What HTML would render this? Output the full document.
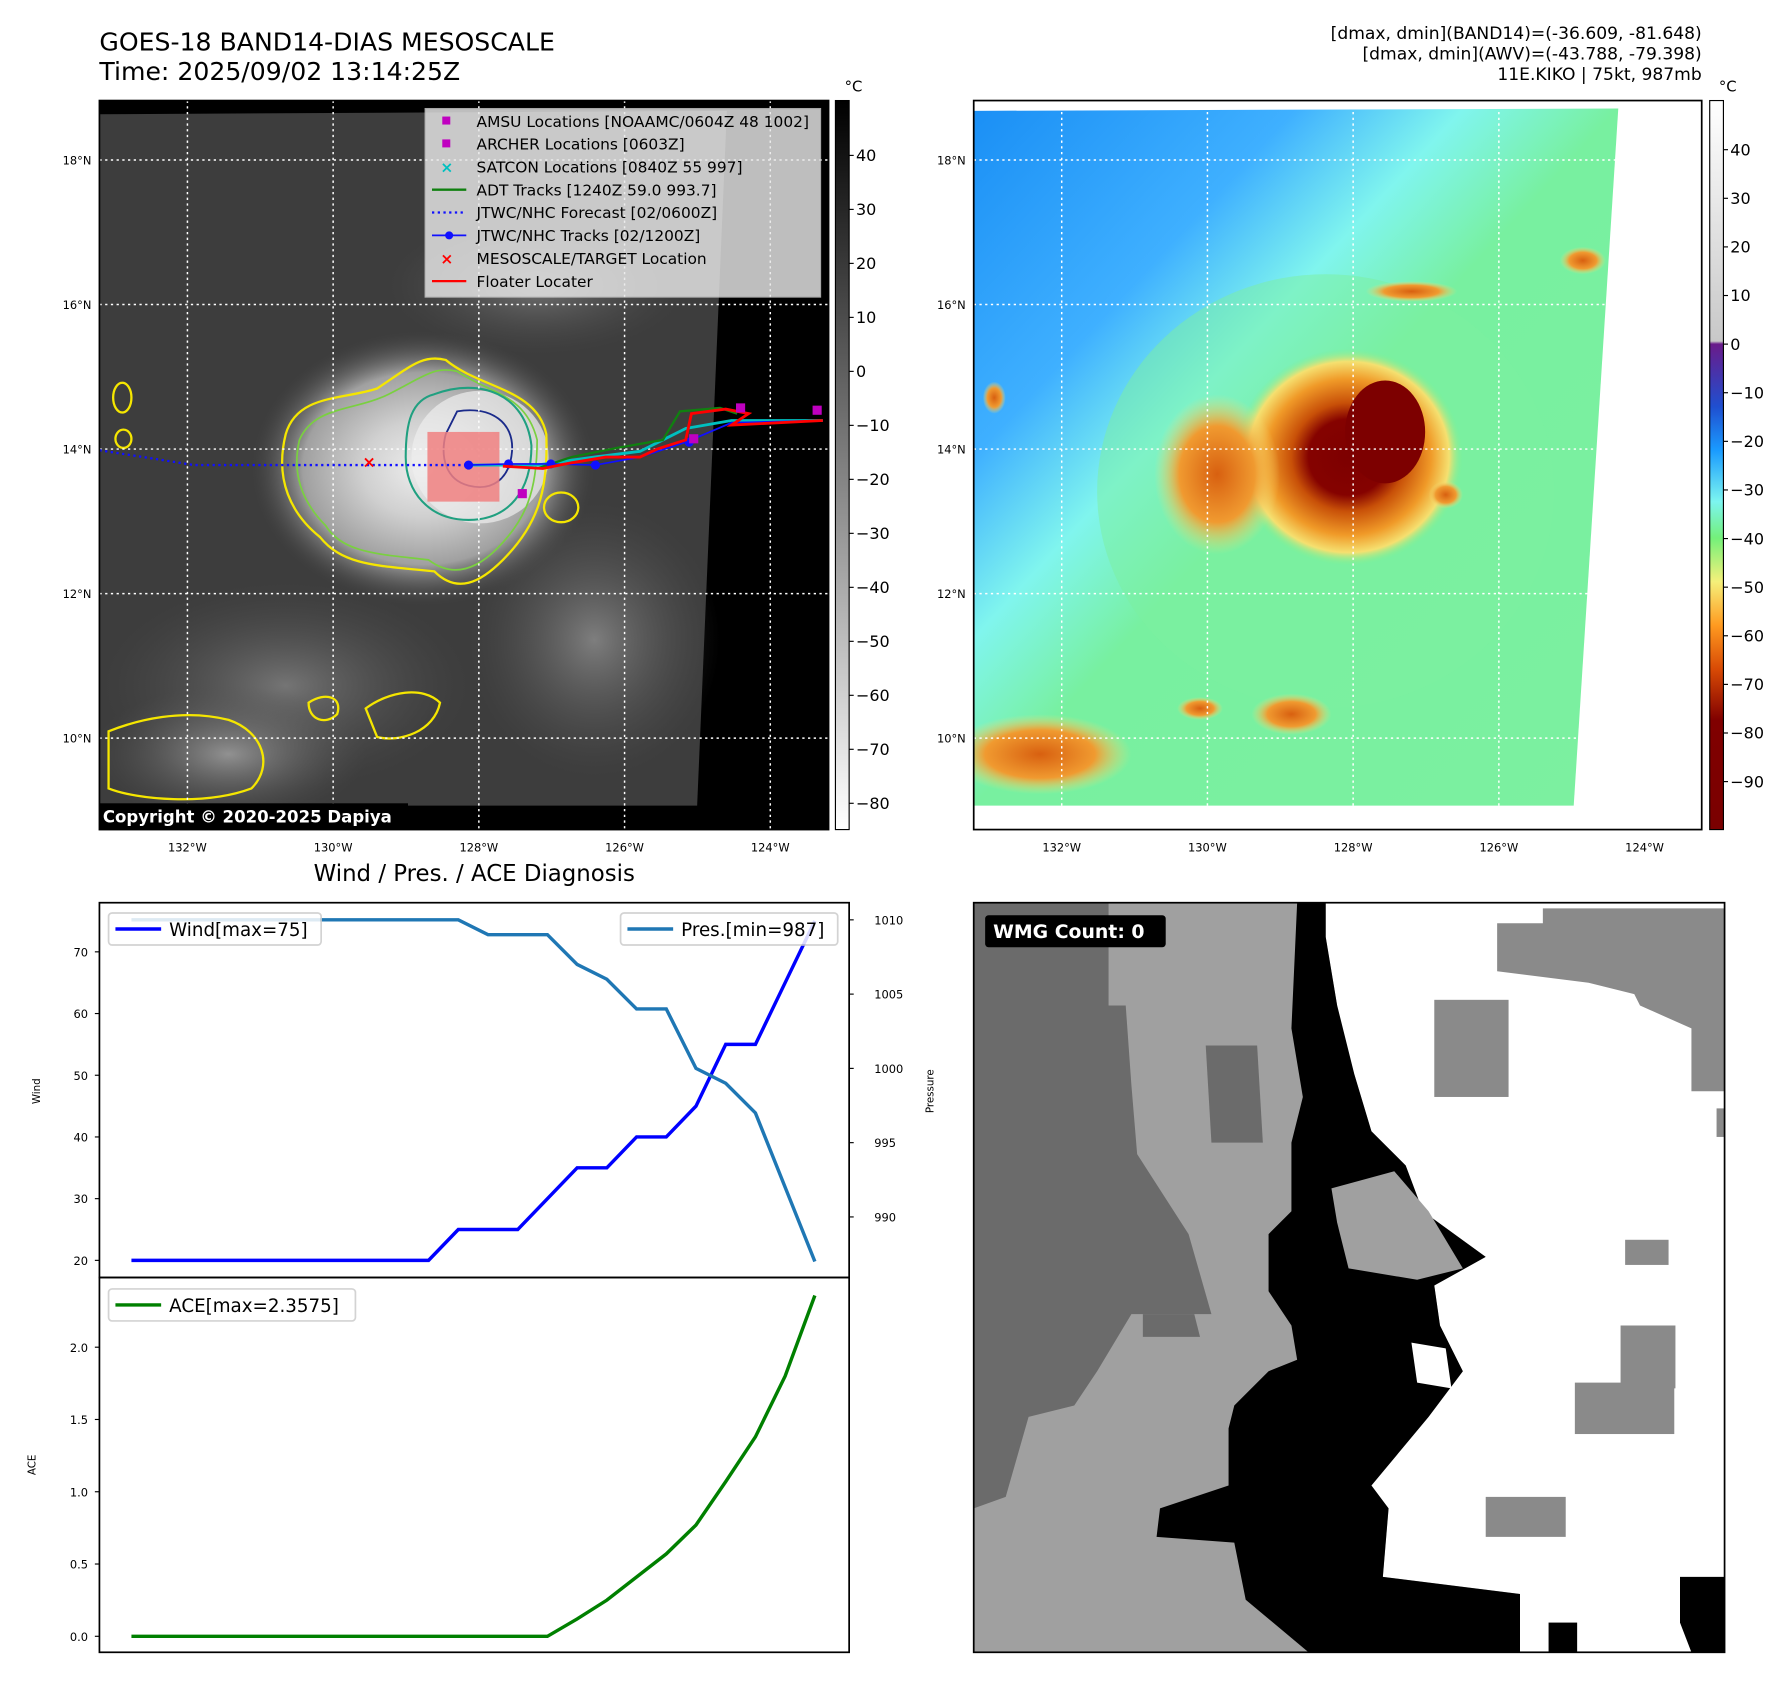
<!DOCTYPE html>
<html><head><meta charset="utf-8"><title>GOES-18 BAND14 KIKO</title>
<style>
html,body{margin:0;padding:0;background:#fff;}
svg{display:block;font-family:"DejaVu Sans","Liberation Sans",sans-serif;}
</style></head>
<body>
<svg id="fig" xmlns="http://www.w3.org/2000/svg" width="1792" height="1690" viewBox="0 0 1568 1479" preserveAspectRatio="none">
<defs>
  <linearGradient id="cb1" x1="0" y1="0" x2="0" y2="1"><stop offset="0" stop-color="#000"/><stop offset="1" stop-color="#fff"/></linearGradient>
  <linearGradient id="cb2" x1="0" y1="0" x2="0" y2="1">
    <stop offset="0" stop-color="#ffffff"/><stop offset="0.33" stop-color="#c8c8c8"/>
    <stop offset="0.334" stop-color="#6a1b8a"/><stop offset="0.42" stop-color="#1f4fd0"/>
    <stop offset="0.48" stop-color="#1a9bff"/><stop offset="0.55" stop-color="#7cf5f0"/>
    <stop offset="0.60" stop-color="#74f07a"/><stop offset="0.66" stop-color="#f5f07a"/>
    <stop offset="0.72" stop-color="#ff9a20"/><stop offset="0.78" stop-color="#d84a05"/>
    <stop offset="0.85" stop-color="#800000"/><stop offset="1" stop-color="#7a0000"/>
  </linearGradient>
  <radialGradient id="storm1" cx="0.5" cy="0.5" r="0.5">
    <stop offset="0" stop-color="#eeeeee"/><stop offset="0.35" stop-color="#d0d0d0"/>
    <stop offset="0.7" stop-color="#a0a0a0"/><stop offset="1" stop-color="#4a4a4a" stop-opacity="0"/>
  </radialGradient>
  <radialGradient id="cloud1" cx="0.5" cy="0.5" r="0.5">
    <stop offset="0" stop-color="#9a9a9a"/><stop offset="1" stop-color="#555" stop-opacity="0"/>
  </radialGradient>
  <linearGradient id="bg2" x1="0" y1="0" x2="1" y2="1">
    <stop offset="0" stop-color="#1a8ff5"/><stop offset="0.25" stop-color="#3fb0ff"/>
    <stop offset="0.38" stop-color="#80f5ee"/><stop offset="0.5" stop-color="#78f0a0"/>
    <stop offset="1" stop-color="#7cf0a0"/>
  </linearGradient>
  <radialGradient id="storm2" cx="0.5" cy="0.5" r="0.5">
    <stop offset="0" stop-color="#7d0000"/><stop offset="0.35" stop-color="#850200"/>
    <stop offset="0.5" stop-color="#c85008"/><stop offset="0.72" stop-color="#f09a28"/>
    <stop offset="0.88" stop-color="#f5e070"/><stop offset="1" stop-color="#7cf090" stop-opacity="0"/>
  </radialGradient>
  <radialGradient id="blob2" cx="0.5" cy="0.5" r="0.5">
    <stop offset="0" stop-color="#d86010"/><stop offset="0.6" stop-color="#f09a30"/>
    <stop offset="1" stop-color="#f5e27a" stop-opacity="0"/>
  </radialGradient>
  <clipPath id="m1clip"><rect x="87" y="88" width="638" height="638"/></clipPath>
  <clipPath id="m2clip"><rect x="852" y="88" width="637" height="638"/></clipPath>
</defs>

<!-- titles -->
<text x="87" y="44" font-size="22">GOES-18 BAND14-DIAS MESOSCALE</text>
<text x="87" y="70" font-size="22">Time: 2025/09/02 13:14:25Z</text>
<g font-size="15" text-anchor="end">
  <text x="1489" y="34">[dmax, dmin](BAND14)=(-36.609, -81.648)</text>
  <text x="1489" y="52">[dmax, dmin](AWV)=(-43.788, -79.398)</text>
  <text x="1489" y="70">11E.KIKO | 75kt, 987mb</text>
</g>

<!-- MAP 1 -->
<g clip-path="url(#m1clip)">
  <rect x="87" y="88" width="638" height="638" fill="#000"/>
  <polygon points="87,100 636,97 610,705 87,705" fill="#3d3d3d"/>
  <ellipse cx="520" cy="560" rx="110" ry="120" fill="url(#cloud1)" opacity="0.7"/>
  <ellipse cx="250" cy="600" rx="160" ry="90" fill="url(#cloud1)" opacity="0.6"/>
  <ellipse cx="200" cy="660" rx="120" ry="60" fill="url(#cloud1)" opacity="0.9"/>
  <ellipse cx="470" cy="250" rx="130" ry="60" fill="url(#cloud1)" opacity="0.6"/>
  <ellipse cx="370" cy="410" rx="150" ry="120" fill="url(#storm1)"/>
  <ellipse cx="420" cy="400" rx="60" ry="58" fill="#eeeeee" opacity="0.7"/>
  <!-- contours -->
  <path d="M250,380 C260,345 300,350 330,340 C360,320 370,310 390,315 C420,340 470,340 478,380 C480,430 470,460 440,490 C420,510 400,520 380,500 C330,495 300,495 280,470 C255,450 240,420 250,380 Z" fill="none" stroke="#f5e600" stroke-width="2"/>
  <path d="M262,385 C275,355 310,360 340,345 C370,330 380,320 400,325 C430,345 460,345 470,385 C470,430 460,455 435,480 C415,500 395,505 375,490 C335,485 300,485 285,460 C265,440 255,415 262,385 Z" fill="none" stroke="#7ad040" stroke-width="1.5"/>
  <path d="M380,345 C420,330 460,345 465,390 C465,430 445,455 410,455 C375,455 355,430 355,400 C355,370 360,350 380,345 Z" fill="none" stroke="#20a080" stroke-width="1.8"/>
  <path d="M400,360 C430,355 450,370 448,395 C446,420 430,430 410,425 C390,420 385,400 390,380 Z" fill="none" stroke="#1a2a8a" stroke-width="1.6"/>
  <path d="M95,640 C120,630 160,620 200,630 C230,640 240,670 220,690 C180,705 120,700 95,690 Z" fill="none" stroke="#f5e600" stroke-width="2"/>
  <path d="M320,620 C340,605 370,600 385,615 C380,640 350,650 330,645 Z" fill="none" stroke="#f5e600" stroke-width="2"/>
  <path d="M270,615 C285,605 300,610 295,625 C285,635 270,630 270,615 Z" fill="none" stroke="#f5e600" stroke-width="2"/>
  <ellipse cx="107" cy="348" rx="8" ry="13" fill="none" stroke="#f5e600" stroke-width="2"/>
  <ellipse cx="108" cy="384" rx="7" ry="8" fill="none" stroke="#f5e600" stroke-width="2"/>
  <ellipse cx="491" cy="444" rx="15" ry="13" fill="none" stroke="#f5e600" stroke-width="2"/>
  <g stroke="#fff" stroke-width="1.3" stroke-dasharray="2,3">
    <line x1="87" x2="725" y1="140" y2="140"/><line x1="87" x2="725" y1="266.5" y2="266.5"/>
    <line x1="87" x2="725" y1="393" y2="393"/><line x1="87" x2="725" y1="519.5" y2="519.5"/>
    <line x1="87" x2="725" y1="646" y2="646"/>
    <line y1="88" y2="726" x1="164" x2="164"/><line y1="88" y2="726" x1="291.5" x2="291.5"/>
    <line y1="88" y2="726" x1="419" x2="419"/><line y1="88" y2="726" x1="546.5" x2="546.5"/>
    <line y1="88" y2="726" x1="674" x2="674"/>
  </g>
  <rect x="374" y="378" width="63" height="61" fill="#f08080" opacity="0.85"/>
  <polyline points="87,394 170,407 410,407" fill="none" stroke="#1010ff" stroke-width="2" stroke-dasharray="2,3"/>
  <polyline points="410,407 470,407 520,400 560,395 580,385 600,375 640,368 720,368" fill="none" stroke="#00c0c0" stroke-width="2.5"/>
  <polyline points="470,410 500,400 540,392 580,385 595,360 630,357 645,362" fill="none" stroke="#108010" stroke-width="2"/>
  <polyline points="410,407 445,406 482,406 521,407 560,400 600,387 640,370 720,368" fill="none" stroke="#1010ff" stroke-width="1.5"/>
  <g fill="#1010ff"><circle cx="410" cy="407" r="4"/><circle cx="445" cy="406" r="4"/><circle cx="482" cy="406" r="4"/><circle cx="521" cy="407" r="4"/><circle cx="603" cy="387" r="4"/></g>
  <polyline points="440,408 475,410 500,405 530,400 560,400 575,393 600,385 605,362 635,358 655,362 640,372 720,368" fill="none" stroke="#ff0000" stroke-width="2.5"/>
  <g fill="#c000c0"><rect x="453" y="428" width="8" height="8"/><rect x="644" y="353" width="8" height="8"/><rect x="711" y="355" width="8" height="8"/><rect x="603" y="380" width="8" height="8"/></g>
  <text x="323" y="409" fill="#ff0000" font-size="14" text-anchor="middle" font-weight="bold">×</text>
</g>
<rect x="87" y="88" width="638" height="638" fill="none" stroke="#000" stroke-width="1.5"/>
<g font-size="13.5">
  <rect x="372" y="95" width="346" height="165" fill="#e8e8e8" opacity="0.82" stroke="#ccc"/>
  <rect x="387" y="102" width="7" height="7" fill="#c000c0"/><text x="417" y="111">AMSU Locations [NOAAMC/0604Z 48 1002]</text>
  <rect x="387" y="122" width="7" height="7" fill="#c000c0"/><text x="417" y="131">ARCHER Locations [0603Z]</text>
  <text x="391" y="151" fill="#00c0c0" text-anchor="middle" font-weight="bold">×</text><text x="417" y="151">SATCON Locations [0840Z 55 997]</text>
  <line x1="378" x2="408" y1="166" y2="166" stroke="#108010" stroke-width="2"/><text x="417" y="171">ADT Tracks [1240Z 59.0 993.7]</text>
  <line x1="378" x2="408" y1="186" y2="186" stroke="#1010ff" stroke-width="2" stroke-dasharray="2,3"/><text x="417" y="191">JTWC/NHC Forecast [02/0600Z]</text>
  <line x1="378" x2="408" y1="206" y2="206" stroke="#1010ff" stroke-width="1.5"/><circle cx="393" cy="206" r="3.5" fill="#1010ff"/><text x="417" y="211">JTWC/NHC Tracks [02/1200Z]</text>
  <text x="391" y="231" fill="#ff0000" text-anchor="middle" font-weight="bold">×</text><text x="417" y="231">MESOSCALE/TARGET Location</text>
  <line x1="378" x2="408" y1="246" y2="246" stroke="#ff0000" stroke-width="2"/><text x="417" y="251">Floater Locater</text>
</g>
<rect x="87" y="703" width="270" height="23" fill="#000"/>
<text x="90" y="720" fill="#fff" font-size="14.5" font-weight="bold">Copyright © 2020-2025 Dapiya</text>

<g>
  <rect x="731" y="88" width="12" height="638" fill="url(#cb1)" stroke="#000" stroke-width="1"/>
  <text x="739" y="80" font-size="13">°C</text>
  <g id="cb1ticks" font-size="14"></g>
</g>

<!-- MAP 2 -->
<g clip-path="url(#m2clip)">
  <rect x="852" y="88" width="637" height="638" fill="#fff"/>
  <polygon points="852,97 1416,95 1377,705 852,705" fill="url(#bg2)"/>
  <ellipse cx="1160" cy="430" rx="200" ry="190" fill="#7cf0a0" opacity="0.5"/>
  <ellipse cx="1180" cy="400" rx="100" ry="95" fill="url(#storm2)"/>
  <ellipse cx="1065" cy="415" rx="55" ry="70" fill="url(#blob2)"/>
  <ellipse cx="1212" cy="378" rx="35" ry="45" fill="#7d0000"/>
  <ellipse cx="1235" cy="255" rx="40" ry="9" fill="url(#blob2)"/>
  <ellipse cx="1385" cy="228" rx="20" ry="12" fill="url(#blob2)"/>
  <ellipse cx="1130" cy="625" rx="35" ry="18" fill="url(#blob2)"/>
  <ellipse cx="1050" cy="620" rx="20" ry="10" fill="url(#blob2)"/>
  <ellipse cx="910" cy="660" rx="80" ry="35" fill="url(#blob2)"/>
  <ellipse cx="1265" cy="433" rx="15" ry="12" fill="url(#blob2)"/>
  <ellipse cx="870" cy="348" rx="10" ry="14" fill="url(#blob2)"/>
  <g stroke="#fff" stroke-width="1.3" stroke-dasharray="2,3">
    <line x1="852" x2="1489" y1="140" y2="140"/><line x1="852" x2="1489" y1="266.5" y2="266.5"/>
    <line x1="852" x2="1489" y1="393" y2="393"/><line x1="852" x2="1489" y1="519.5" y2="519.5"/>
    <line x1="852" x2="1489" y1="646" y2="646"/>
    <line y1="88" y2="726" x1="929" x2="929"/><line y1="88" y2="726" x1="1056.5" x2="1056.5"/>
    <line y1="88" y2="726" x1="1184" x2="1184"/><line y1="88" y2="726" x1="1311.5" x2="1311.5"/>
    <line y1="88" y2="726" x1="1439" x2="1439"/>
  </g>
</g>
<rect x="852" y="88" width="637" height="638" fill="none" stroke="#000" stroke-width="1.5"/>
<g>
  <rect x="1496" y="88" width="12" height="638" fill="url(#cb2)" stroke="#000" stroke-width="1"/>
  <text x="1504" y="80" font-size="13">°C</text>
  <g id="cb2ticks" font-size="14"></g>
</g>

<g id="maplabels" font-size="10"></g>

<text x="415" y="771" font-size="20" text-anchor="middle">Wind / Pres. / ACE Diagnosis</text>
<g id="chart"></g>

<!-- WMG -->
<g>
  <rect x="852" y="790" width="657" height="656" fill="#a0a0a0"/>
  <polygon fill="#6b6b6b" points="852,790 970,790 970,880 985,880 990,950 995,1010 1040,1080 1060,1150 990,1150 960,1200 940,1230 900,1240 880,1310 852,1320"/>
  <polygon fill="#6b6b6b" points="1055,915 1100,915 1105,1000 1060,1000"/>
  <polygon fill="#6b6b6b" points="1000,1150 1045,1150 1050,1170 1000,1170"/>
  <polygon fill="#ffffff" points="1160,790 1509,790 1509,1446 1330,1446 1330,1395 1210,1380 1215,1320 1200,1300 1250,1240 1280,1200 1260,1160 1255,1125 1300,1100 1245,1060 1230,1020 1200,990 1185,940 1170,880 1160,820"/>
  <polygon fill="#000" points="1135,790 1160,790 1160,820 1170,880 1185,940 1200,990 1230,1020 1245,1060 1300,1100 1255,1125 1260,1160 1280,1200 1250,1240 1200,1300 1215,1320 1210,1380 1330,1395 1330,1446 1145,1446 1090,1400 1080,1350 1012,1345 1015,1320 1075,1300 1075,1250 1080,1230 1110,1200 1135,1190 1130,1160 1110,1130 1110,1080 1130,1060 1130,1000 1140,960 1130,900"/>
  <polygon fill="#a0a0a0" points="1165,1040 1220,1025 1250,1060 1280,1110 1240,1120 1180,1110 1170,1070"/>
  <polygon fill="#fff" points="1235,1175 1265,1180 1270,1215 1240,1210"/>
  <g fill="#8a8a8a">
    <polygon points="1310,808 1350,808 1350,795 1509,795 1509,955 1480,955 1480,900 1435,880 1430,870 1390,860 1310,850"/>
    <rect x="1255" y="875" width="65" height="85"/>
    <rect x="1378" y="1210" width="87" height="45"/>
    <rect x="1418" y="1160" width="48" height="55"/>
    <rect x="1300" y="1310" width="70" height="35"/>
    <rect x="1422" y="1085" width="38" height="22"/>
    <rect x="1502" y="970" width="7" height="25"/>
  </g>
  <polygon fill="#000" points="1470,1380 1509,1380 1509,1446 1480,1446 1470,1420"/>
  <rect x="1355" y="1420" width="25" height="26" fill="#000"/>
  <rect x="852" y="790" width="657" height="656" fill="none" stroke="#000" stroke-width="1.5"/>
  <rect x="862" y="801" width="158" height="28" rx="3" fill="#000"/>
  <text x="869" y="821" fill="#fff" font-size="16.5" font-weight="bold">WMG Count: 0</text>
</g>

<script>
const windValues = [20,20,20,20,20,20,20,20,20,20,20,25,25,25,30,35,35,40,40,45,55,55,65,75];
const presValues = [1010,1010,1010,1010,1010,1010,1010,1010,1010,1010,1010,1010,1009,1009,1009,1007,1006,1004,1004,1000,999,997,992,987];
const aceValues = [0,0,0,0,0,0,0,0,0,0,0,0,0,0,0,0.12,0.25,0.41,0.57,0.77,1.07,1.38,1.80,2.3575];
const windTicks = [20,30,40,50,60,70];
const presTicks = [990,995,1000,1005,1010];
const aceTicks = [0.0,0.5,1.0,1.5,2.0];
const cb1TickLabels = [40,30,20,10,0,-10,-20,-30,-40,-50,-60,-70,-80];
const cb2TickLabels = [40,30,20,10,0,-10,-20,-30,-40,-50,-60,-70,-80,-90];
const latTicks = [18,16,14,12,10];
const lonTicks = [132,130,128,126,124];

const NS = 'http://www.w3.org/2000/svg';
function mk(parent, tag, attrs, txt){
  const e = document.createElementNS(NS, tag);
  for (const k in attrs) e.setAttribute(k, attrs[k]);
  if (txt !== undefined) e.textContent = txt;
  parent.appendChild(e);
  return e;
}
const AX = {l:87, r:743, t1:790, m:1118, b:1446};
const xS = i => 115 + i * (713 - 115) / (windValues.length - 1);
const yWind = v => 1103 - (v - 20) * 5.4;
const yPres = v => 805 + (1010 - v) * 13;
const yAce = v => 1432 - v * 126.5;

const chart = document.getElementById('chart');

const wl = mk(chart, 'polyline', {points: windValues.map((v,i)=>xS(i)+','+yWind(v)).join(' '), fill:'none', stroke:'#0000ff', 'stroke-width':3});


const pl = mk(chart, 'polyline', {points: presValues.map((v,i)=>xS(i)+','+yPres(v)).join(' '), fill:'none', stroke:'#1f77b4', 'stroke-width':3});


const al = mk(chart, 'polyline', {points: aceValues.map((v,i)=>xS(i)+','+yAce(v)).join(' '), fill:'none', stroke:'#008000', 'stroke-width':3});



windTicks.forEach(v=>{
  const y = yWind(v);
  mk(chart,'line',{x1:AX.l-4,x2:AX.l,y1:y,y2:y,stroke:'#000'});
  const t = mk(chart,'text',{x:AX.l-10,y:y+4,'font-size':10,'text-anchor':'end'}, String(v));
  
  
});
presTicks.forEach(v=>{
  const y = yPres(v);
  mk(chart,'line',{x1:AX.r,x2:AX.r+4,y1:y,y2:y,stroke:'#000'});
  const t = mk(chart,'text',{x:AX.r+22,y:y+4,'font-size':10}, String(v));
  
  
});
aceTicks.forEach(v=>{
  const y = yAce(v);
  mk(chart,'line',{x1:AX.l-4,x2:AX.l,y1:y,y2:y,stroke:'#000'});
  const t = mk(chart,'text',{x:AX.l-10,y:y+4,'font-size':10,'text-anchor':'end'}, v.toFixed(1));
  
  
});
mk(chart,'rect',{x:AX.l,y:AX.t1,width:AX.r-AX.l,height:AX.m-AX.t1,fill:'none',stroke:'#000','stroke-width':1.5});
mk(chart,'rect',{x:AX.l,y:AX.m,width:AX.r-AX.l,height:AX.b-AX.m,fill:'none',stroke:'#000','stroke-width':1.5});
const yl1 = mk(chart,'text',{x:35,y:955,'font-size':9,'text-anchor':'middle',transform:'rotate(-90 35 955)'},'Wind');


const yl2 = mk(chart,'text',{x:817,y:955,'font-size':9,'text-anchor':'middle',transform:'rotate(-90 817 955)'},'Pressure');


const yl3 = mk(chart,'text',{x:31,y:1282,'font-size':9,'text-anchor':'middle',transform:'rotate(-90 31 1282)'},'ACE');



function legend(x,y,w,color,label,name){
  const g = mk(chart,'g',{});
  
  
  mk(g,'rect',{x:x,y:y,width:w,height:28,rx:3,fill:'#fff',stroke:'#ccc','stroke-width':1.5,opacity:0.85});
  mk(g,'line',{x1:x+6,x2:x+46,y1:y+14,y2:y+14,stroke:color,'stroke-width':3});
  mk(g,'text',{x:x+53,y:y+20,'font-size':16},label);
}
legend(95,799,186,'#0000ff','Wind[max=75]','wind-legend');
legend(543,799,190,'#1f77b4','Pres.[min=987]','pressure-legend');
legend(95,1128,216,'#008000','ACE[max=2.3575]','ace-legend');

const cb1 = document.getElementById('cb1ticks');
cb1TickLabels.forEach(v=>{
  const y = 136 + (40 - v) * 4.725;
  mk(cb1,'line',{x1:743,x2:747,y1:y,y2:y,stroke:'#000'});
  const t = mk(cb1,'text',{x:749,y:y+5}, String(v).replace('-', '\u2212'));
  
  
});
const cb2 = document.getElementById('cb2ticks');
cb2TickLabels.forEach(v=>{
  const y = 131 + (40 - v) * 4.254;
  mk(cb2,'line',{x1:1508,x2:1512,y1:y,y2:y,stroke:'#000'});
  const t = mk(cb2,'text',{x:1514,y:y+5}, String(v).replace('-', '\u2212'));
  
  
});

const ml = document.getElementById('maplabels');
const latY = lat => 140 + (18 - lat) * 63.25;
const lonX1 = lon => 164 + (132 - lon) * 63.75;
latTicks.forEach(lat=>{
  [80, 845].forEach(x=>{
    const t = mk(ml,'text',{x:x,y:latY(lat)+4,'text-anchor':'end'}, lat+'°N');
    
    
  });
});
lonTicks.forEach(lon=>{
  [0, 765].forEach(off=>{
    const t = mk(ml,'text',{x:lonX1(lon)+off,y:745,'text-anchor':'middle'}, lon+'°W');
    
    
  });
});
</script>
</body></html>
